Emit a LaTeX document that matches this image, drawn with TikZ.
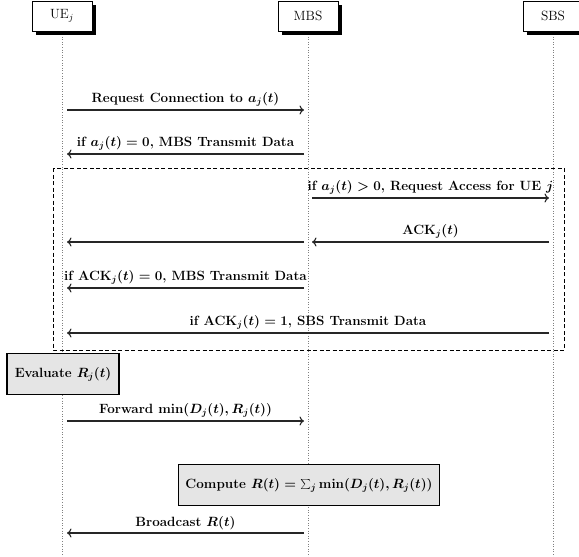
\RequirePackage{fix-cm}
\documentclass[tikz,border=0pt]{standalone}
\usetikzlibrary{shadows,backgrounds,arrows.meta}
\begin{document}
\begin{tikzpicture}[x=1pt,y=-1pt,
  every node/.style={font=\fontsize{13.4}{16}\selectfont},
  actor/.style={draw,fill=white,line width=0.8pt,minimum width=60pt,minimum height=30pt,inner sep=0pt,
    drop shadow={shadow xshift=3.5pt,shadow yshift=-3.5pt,fill=black,opacity=1}},
  life/.style={draw=gray,dotted,line width=0.6pt},
  msg/.style={-{To[length=4.5pt,width=9pt,line width=1.1pt]},line width=1.1pt,draw=black!85},
  lbl/.style={font=\fontsize{13.4}{16}\selectfont\bfseries\boldmath,inner sep=3pt,text=black},
  procbox/.style={draw,fill=gray!20,line width=1.1pt,minimum height=41pt,inner xsep=7pt,
    font=\fontsize{13.4}{16}\selectfont\bfseries\boldmath},
  grp/.style={draw,dash pattern=on 4pt off 2.5pt,line width=0.9pt}
]
\useasboundingbox (0,0) rectangle (579,557);

% actors
\node[actor] (ue) at (62,16) {UE$_j$};
\node[actor] (mbs) at (308,16) {MBS};
\node[actor] (sbs) at (553,16) {SBS};

\coordinate (ueEnd) at (62,557);
\coordinate (mbsEnd) at (308,557);
\coordinate (sbsEnd) at (553,557);
\begin{scope}[on background layer]
\draw[life] (ue.south) -- (ueEnd);
\draw[life] (mbs.south) -- (mbsEnd);
\draw[life] (sbs.south) -- (sbsEnd);
\end{scope}

% message 1
\coordinate (a1) at (67,110); \coordinate (b1) at (304,110);
\draw[msg] (a1) -- node[lbl,above] {Request Connection to $a_j(t)$} (b1);
% message 2
\coordinate (a2) at (304,154); \coordinate (b2) at (67,154);
\draw[msg] (a2) -- node[lbl,above] {if $a_j(t)=0$, MBS Transmit Data} (b2);

% group
\draw[grp] (53,168) rectangle (564,350);

% message 3
\coordinate (a3) at (312,198); \coordinate (b3) at (549,198);
\draw[msg] (a3) -- node[lbl,above] {if $a_j(t)>0$, Request Access for UE $j$} (b3);
% message 4
\coordinate (a4) at (549,242); \coordinate (b4) at (312,242);
\draw[msg] (a4) -- node[lbl,above] {ACK$_j(t)$} (b4);
\coordinate (a4b) at (304,242); \coordinate (b4b) at (67,242);
\draw[msg] (a4b) -- (b4b);
% message 5
\coordinate (a5) at (304,288); \coordinate (b5) at (67,288);
\draw[msg] (a5) -- node[lbl,above] {if ACK$_j(t)=0$, MBS Transmit Data} (b5);
% message 6
\coordinate (a6) at (549,333); \coordinate (b6) at (67,333);
\draw[msg] (a6) -- node[lbl,above] {if ACK$_j(t)=1$, SBS Transmit Data} (b6);

% evaluate
\node[procbox,minimum width=112pt] (eval) at (63,374) {Evaluate $R_j(t)$};

% forward
\coordinate (a7) at (67,421); \coordinate (b7) at (304,421);
\draw[msg] (a7) -- node[lbl,above] {Forward $\min\bigl(D_j(t),R_j(t)\bigr)$} (b7);

% compute
\node[procbox] (comp) at (309,485) {Compute $R(t)=\sum_j\min\bigl(D_j(t),R_j(t)\bigr)$};

% broadcast
\coordinate (a8) at (304,533); \coordinate (b8) at (67,533);
\draw[msg] (a8) -- node[lbl,above] {Broadcast $R(t)$} (b8);
\end{tikzpicture}
\end{document}
